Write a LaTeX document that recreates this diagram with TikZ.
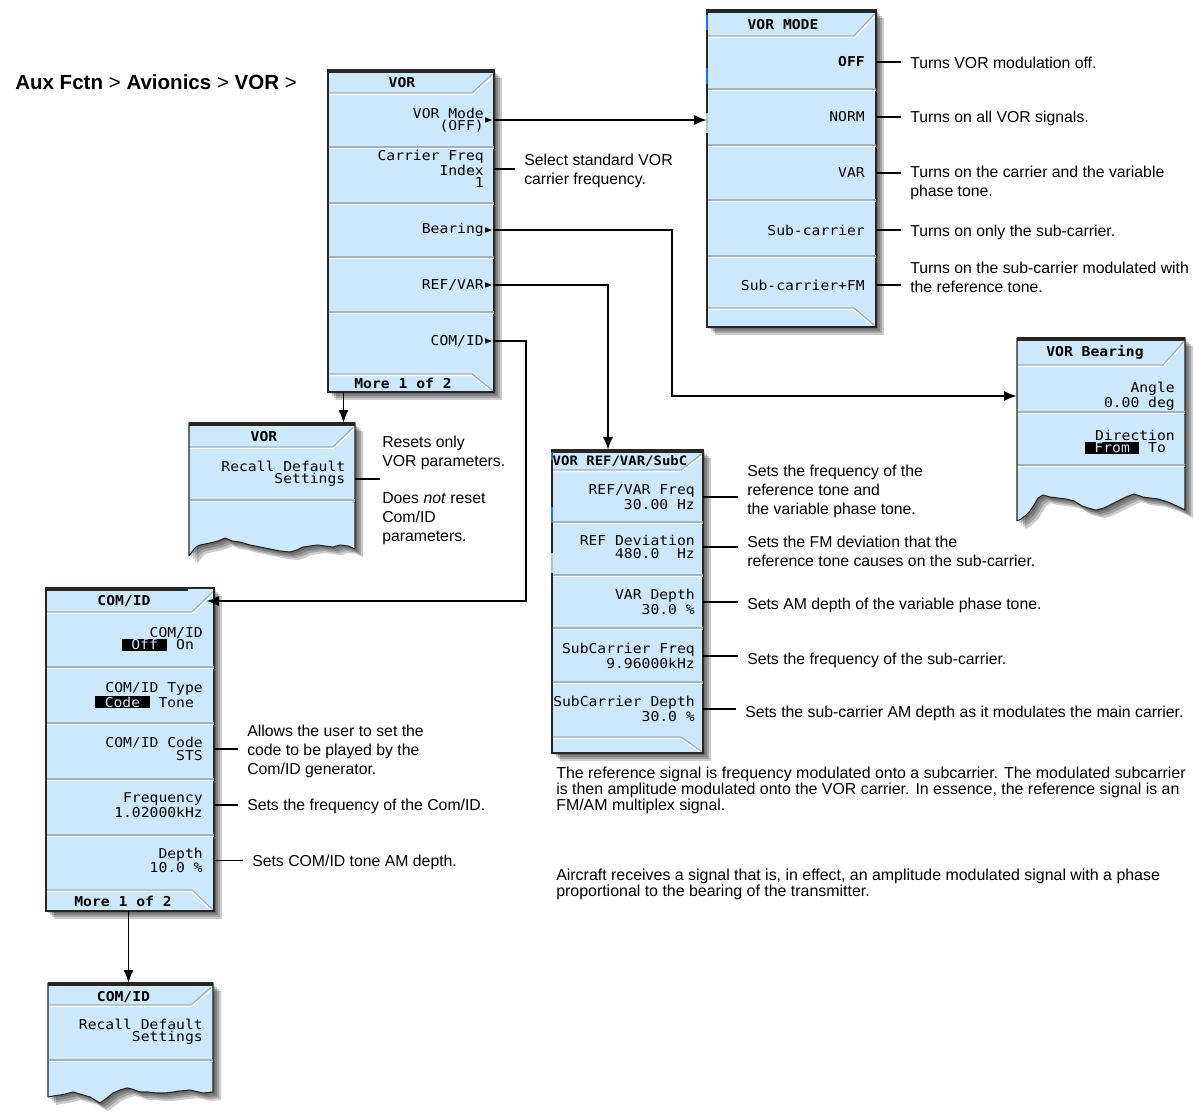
\documentclass[tikz,border=0pt]{standalone}
\usepackage{fontspec}
\setmainfont{Liberation Sans}
\newfontfamily\scrfont[FakeStretch=1.08]{DejaVu Sans Mono}
\usetikzlibrary{arrows.meta,fit,shapes.geometric}
\definecolor{scrbg}{RGB}{206,232,251}
\definecolor{sepdk}{RGB}{158,178,194}
\definecolor{bord}{RGB}{38,38,38}
\definecolor{tick}{RGB}{40,110,230}
\definecolor{tickg}{RGB}{175,195,212}
\newcommand{\hl}[1]{{\setlength{\fboxsep}{0.5pt}\colorbox{black}{\textcolor{scrbg}{#1}}}}
% title bar bevel: L T R TB
\newcommand{\ktitle}[4]{%
  \draw[sepdk,line width=1pt] (#1,#4) -- ({#3-22},#4) -- ({#3-1.5},{#2+4});
  \draw[white,line width=0.9pt] ({#1+0.5},{#4+1.4}) -- ({#3-21.4},{#4+1.4}) -- ({#3-0.5},{#2+5.5});
}
% bottom bar bevel: L R BB B
\newcommand{\kbot}[4]{%
  \draw[sepdk,line width=1pt] (#1,#3) -- ({#2-22},#3) -- ({#2-1.5},{#4-1.5});
  \draw[white,line width=0.9pt] ({#1+0.5},{#3+1.4}) -- ({#2-22.6},{#3+1.4}) -- ({#2-3},{#4-1});
}
% separator: L R y
\newcommand{\ksep}[3]{%
  \draw[sepdk,line width=1pt] ({#1+0.5},#3) -- ({#2-0.5},#3);
  \draw[white,line width=0.9pt] ({#1+0.5},{#3+1.4}) -- ({#2-0.5},{#3+1.4});
}
% rectangular panel: L T R B TB BB topbarR
\newcommand{\kpanelR}[7]{%
  \foreach \s in {2,4,6,8}{\fill[black,opacity=0.2] ({#1+\s},{#2+\s}) rectangle ({#3+\s},{#4+\s});}
  \fill[scrbg] (#1,#2) rectangle (#3,#4);
  \ktitle{#1}{#2}{#3}{#5}
  \kbot{#1}{#3}{#6}{#4}
  \draw[bord,line width=0.8pt] (#1,#2) rectangle (#3,#4);
  \fill[bord] (#1,{#2-1}) rectangle (#7,{#2+3});
}
% torn panel: L T R TB tornpath
\newcommand{\kpanelT}[5]{%
  \foreach \s in {2,4,6,8}{\fill[black,opacity=0.2,shift={(\s,\s)}] (#1,#2) -- (#3,#2) -- #5 -- cycle;}
  \fill[scrbg] (#1,#2) -- (#3,#2) -- #5 -- cycle;
  \ktitle{#1}{#2}{#3}{#4}
  \draw[bord,line width=0.8pt,line join=round] (#1,#2) -- (#3,#2) -- #5 -- cycle;
  \fill[bord] (#1,{#2-1}) rectangle (#3,{#2+3});
}
\begin{document}
\begin{tikzpicture}[x=0.75pt,y=-0.75pt,
  sk/.style={font=\scrfont\fontsize{10.2}{9.2}\selectfont, align=right, anchor=east, inner sep=0pt},
  skt/.style={font=\scrfont\bfseries\fontsize{10.2}{9.2}\selectfont, inner sep=0pt},
  ann/.style={font=\fontsize{11.85}{14.25}\selectfont, align=left, anchor=north west, inner sep=0pt},
  para/.style={font=\fontsize{11.95}{12}\selectfont, align=left, anchor=north west, inner sep=0pt},
  conn/.style={line width=1.2pt, -{Latex[length=9.5pt,width=7.5pt]}},
  cl/.style={line width=1.15pt, shorten >=7pt},
  mk/.style={isosceles triangle, isosceles triangle stretches, fill=black, inner sep=0pt, minimum width=4pt, minimum height=5.2pt, anchor=west},
  pn/.style={inner sep=0pt}]
\fill[white] (0,0) rectangle (1193,1111);
\useasboundingbox (0,0) rectangle (1193,1111);

% heading
\node[anchor=west,inner sep=0pt,font=\bfseries\fontsize{15.4}{18}\selectfont] (hdr) at (15,82)
  {Aux Fctn \textmd{>} Avionics \textmd{>} VOR \textmd{>}};

% ---------------- Panel A: VOR
\kpanelR{328}{70}{494}{392}{93}{374}{494}
\ksep{328}{494}{147}\ksep{328}{494}{203}\ksep{328}{494}{257}\ksep{328}{494}{312}
\node[fit={(328,70) (494,392)},pn] (pA) {};
\node[skt] (tA) at (402,83) {VOR};
\node[sk] (a1) at (484,120) {VOR Mode\\(OFF)};
\node[sk] (a2) at (484,169) {Carrier Freq\\Index\\1};
\node[sk] (a3) at (484,230) {Bearing};
\node[sk] (a4) at (484,285) {REF/VAR};
\node[sk] (a5) at (484,341) {COM/ID};
\node[skt] (mA) at (403,383) {More 1 of 2};
\node[mk] (m1) at ([xshift=0.6pt]a1.east) {};
\node[mk] (m3) at ([xshift=0.6pt]a3.east) {};
\node[mk] (m4) at ([xshift=0.6pt]a4.east) {};
\node[mk] (m5) at ([xshift=0.6pt]a5.east) {};
\node[ann] (nA2) at (524,154) {Select standard VOR\\carrier frequency.};

% ---------------- Panel B: VOR MODE
\kpanelR{707}{10}{876}{327}{36}{308}{876}
\ksep{707}{876}{89}\ksep{707}{876}{145}\ksep{707}{876}{200}\ksep{707}{876}{256}
\draw[tick,line width=1.3pt] (707,15) -- (707,30) (707,68) -- (707,84);
\draw[tickg,line width=1.3pt] (707,113) -- (707,133);
\node[fit={(707,10) (876,327)},pn] (pB) {};
\node[skt] (tB) at (783,25) {VOR MODE};
\node[sk] (b1) at (865,62) {\textbf{OFF}};
\node[sk] (b2) at (865,117) {NORM};
\node[sk] (b3) at (865,173) {VAR};
\node[sk] (b4) at (865,230) {Sub-carrier};
\node[sk] (b5) at (865,285) {Sub-carrier+FM};
\node[ann] (nB1) at (910,57) {Turns VOR modulation off.};
\node[ann] (nB2) at (910,111) {Turns on all VOR signals.};
\node[ann] (nB3) at (910,166) {Turns on the carrier and the variable\\phase tone.};
\node[ann] (nB4) at (910,225) {Turns on only the sub-carrier.};
\node[ann] (nB5) at (910,262) {Turns on the sub-carrier modulated with\\the reference tone.};

% ---------------- Panel C: VOR Bearing
\kpanelT{1017}{338}{1185}{365}{(1185,510) -- (1177,506) -- (1168,502) -- (1158,499) -- (1150,498) -- (1143,497) -- (1134,494) -- (1126,497) -- (1120,500) -- (1112,504) -- (1104,508) -- (1096,510) -- (1088,508) -- (1082,506) -- (1074,501) -- (1066,499) -- (1058,498) -- (1050,497) -- (1043,495) -- (1038,498) -- (1034,505) -- (1030,511) -- (1025,516) -- (1021,519) -- (1017,521)}
\ksep{1017}{1185}{412}\ksep{1017}{1185}{465}
\node[fit={(1017,338) (1185,494)},pn] (pC) {};
\node[skt] (tC) at (1095,352) {VOR Bearing};
\node[sk] (c1) at (1175,396) {Angle\\0.00 deg};
\node[sk] (c2) at (1175,442) {Direction\\\hl{\ From\ }\ To\hphantom{0}};

% ---------------- Panel D: VOR REF/VAR/SubC
\kpanelR{552}{450}{703}{753}{470}{737}{703}
\ksep{552}{703}{522}\ksep{552}{703}{575}\ksep{552}{703}{628}\ksep{552}{703}{682}
\draw[tick,line width=1.3pt] (552,452) -- (552,460) (552,507) -- (552,523);
\draw[tickg,line width=1.3pt] (552,553) -- (552,573);
\node[fit={(552,450) (703,753)},pn] (pD) {};
\node[skt,font=\scrfont\bfseries\fontsize{9.7}{9}\selectfont] (tD) at (620,461) {VOR REF/VAR/SubC};
\node[sk] (d1) at (695,497) {REF/VAR Freq\\30.00 Hz};
\node[sk] (d2) at (695,547) {REF Deviation\\480.0\ \ Hz};
\node[sk] (d3) at (695,602) {VAR Depth\\30.0 \%};
\node[sk] (d4) at (695,656) {SubCarrier Freq\\9.96000kHz};
\node[sk] (d5) at (695,709) {SubCarrier Depth\\30.0 \%};
\node[ann] (nD1) at (747,465) {Sets the frequency of the\\reference tone and\\the variable phase tone.};
\node[ann] (nD2) at (747,536) {Sets the FM deviation that the\\reference tone causes on the sub-carrier.};
\node[ann] (nD3) at (747,598) {Sets AM depth of the variable phase tone.};
\node[ann] (nD4) at (747,653) {Sets the frequency of the sub-carrier.};
\node[ann] (nD5) at (745,706) {Sets the sub-carrier AM depth as it modulates the main carrier.};

% ---------------- Panel E: VOR recall
\kpanelT{189}{423}{355}{447}{(355,549) -- (348,546) -- (340,545) -- (333,547) -- (325,546) -- (318,545) -- (310,546) -- (303,547) -- (297,550) -- (290,552) -- (280,551) -- (270,549) -- (260,547) -- (250,545) -- (240,542) -- (232,541) -- (225,538) -- (218,541) -- (210,543) -- (200,545) -- (196,547) -- (192,552) -- (189,556)}
\ksep{189}{355}{500}
\node[fit={(189,423) (355,538)},pn] (pE) {};
\node[skt] (tE) at (264,437) {VOR};
\node[sk] (e1) at (345.5,474) {Recall Default\\Settings};
\node[ann] (nE1) at (382,436) {Resets only\\VOR parameters.};
\node[ann] (nE2) at (382,492) {Does \textit{not} reset\\Com/ID\\parameters.};
\coordinate (eEnd) at (380,479);

% ---------------- Panel F: COM/ID
\kpanelR{46}{588}{214}{911}{612}{890}{188}
\ksep{46}{214}{667}\ksep{46}{214}{723}\ksep{46}{214}{779}\ksep{46}{214}{835}
\node[fit={(46,588) (214,911)},pn] (pF) {};
\node[skt] (tF) at (124,601) {COM/ID};
\node[sk] (f1) at (203,639) {COM/ID\\\hl{\ Off\ }\ On\hphantom{0}};
\node[sk] (f2) at (203,695) {COM/ID Type\\\hl{\ Code\ }\ Tone\hphantom{0}};
\node[sk] (f3) at (203,749) {COM/ID Code\\STS};
\node[sk] (f4) at (203,805) {Frequency\\1.02000kHz};
\node[sk] (f5) at (203,860.5) {Depth\\10.0 \%};
\node[skt] (mF) at (123,901) {More 1 of 2};
\node[ann] (nF3) at (247,725) {Allows the user to set the\\code to be played by the\\Com/ID generator.};
\node[ann] (nF4) at (247,799) {Sets the frequency of the Com/ID.};
\node[ann] (nF5) at (252,855) {Sets COM/ID tone AM depth.};

% ---------------- Panel G: COM/ID recall
\kpanelT{48}{983}{213}{1005}{(213,1092) -- (203,1093) -- (190,1090) -- (180,1091) -- (173,1092) -- (165,1093) -- (157,1093) -- (148,1092) -- (140,1092) -- (132,1089) -- (127,1088) -- (120,1090) -- (113,1093) -- (107,1098) -- (100,1103) -- (95,1100) -- (90,1097) -- (80,1094) -- (73,1092) -- (65,1094) -- (60,1095) -- (53,1096) -- (48,1097)}
\ksep{48}{213}{1060}
\node[fit={(48,983) (213,1087)},pn] (pG) {};
\node[skt] (tG) at (123.5,997) {COM/ID};
\node[sk] (g1) at (203,1031.5) {Recall Default\\Settings};

% ---------------- paragraphs
\node[para] (p1) at (556,767) {The reference signal is frequency modulated onto a subcarrier. The modulated subcarrier\\is then amplitude modulated onto the VOR carrier. In essence, the reference signal is an\\FM/AM multiplex signal.};
\node[para] (p2) at (556,869) {Aircraft receives a signal that is, in effect, an amplitude modulated signal with a phase\\proportional to the bearing of the transmitter.};

% ---------------- connectors
\draw[conn] (m1.apex) -- (pB.west |- m1.apex);
\coordinate (bendC) at (672,0);
\draw[conn] (m3.apex) -| (bendC |- c1) -- (pC.west |- c1);
\coordinate (bendD) at (608,0);
\draw[conn] (m4.apex) -| (bendD |- pD.north);
\coordinate (bendF) at (526,0);
\draw[conn,shorten >=-6pt] (m5.apex) -| (bendF |- tF) -- (pF.east |- tF);
\coordinate (xE) at (343.5,0);
\draw[conn] (xE |- pA.south) -- (xE |- pE.north);
\coordinate (xG) at (128.5,0);
\draw[conn] (xG |- pF.south) -- (xG |- pG.north);

% ---------------- callouts
\draw[cl] (pA.east |- a2) -- (nA2.west |- a2);
\draw[cl] (pB.east |- b1) -- (nB1.west |- b1);
\draw[cl] (pB.east |- b2) -- (nB2.west |- b2);
\draw[cl] (pB.east |- b3) -- (nB3.west |- b3);
\draw[cl] (pB.east |- b4) -- (nB4.west |- b4);
\draw[cl] (pB.east |- b5) -- (nB5.west |- b5);
\draw[cl] (pD.east |- d1) -- (nD1.west |- d1);
\draw[cl] (pD.east |- d2) -- (nD2.west |- d2);
\draw[cl] (pD.east |- d3) -- (nD3.west |- d3);
\draw[cl] (pD.east |- d4) -- (nD4.west |- d4);
\draw[cl] (pD.east |- d5) -- (nD5.west |- d5);
\draw[line width=1.15pt] (pE.east |- eEnd) -- (eEnd);
\draw[cl] (pF.east |- f3) -- (nF3.west |- f3);
\draw[cl] (pF.east |- f4) -- (nF4.west |- f4);
\draw[cl] (pF.east |- f5) -- (nF5.west |- f5);
\end{tikzpicture}
\end{document}
